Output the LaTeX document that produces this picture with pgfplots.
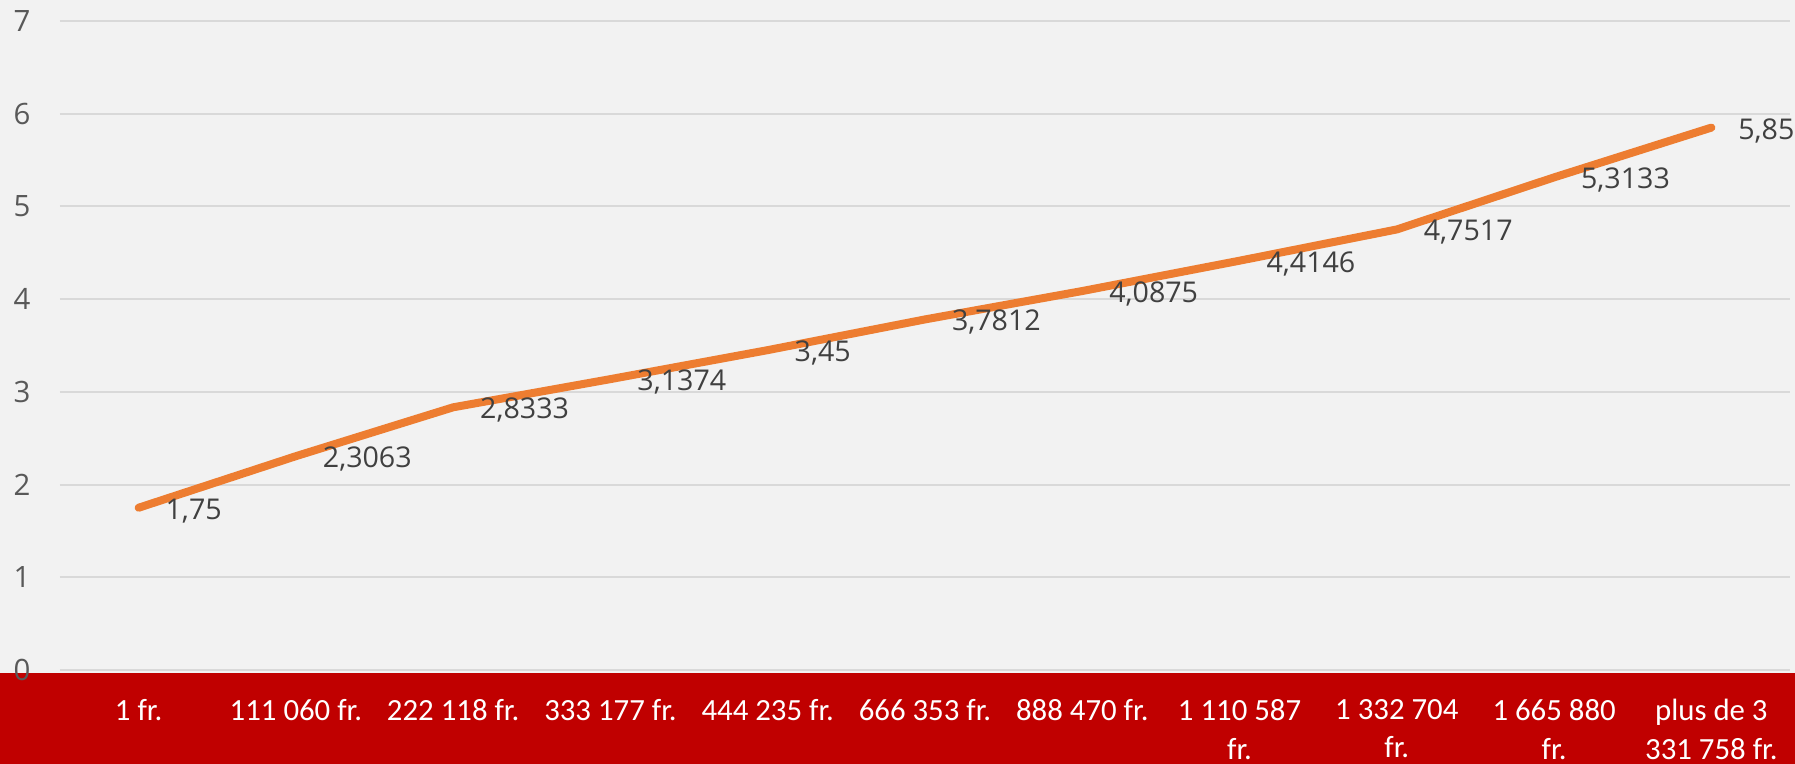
\documentclass[border=0pt]{standalone}
\usepackage{fontspec}
\setmainfont{Open Sans}
\newfontfamily\carlito{Carlito}
\usepackage{pgfplots}
\usepackage{pgfplotstable}
\pgfplotsset{compat=1.18}
\definecolor{bg}{HTML}{F2F2F2}
\definecolor{band}{HTML}{C00000}
\definecolor{gridc}{HTML}{D9D9D9}
\definecolor{lineo}{HTML}{ED7D31}
\definecolor{lab}{HTML}{404040}
\definecolor{tick}{HTML}{595959}
\pgfplotstableread{
x y lab
0 1.75 {1,75}
1 2.3063 {2,3063}
2 2.8333 {2,8333}
3 3.1374 {3,1374}
4 3.45 {3,45}
5 3.7812 {3,7812}
6 4.0875 {4,0875}
7 4.4146 {4,4146}
8 4.7517 {4,7517}
9 5.3133 {5,3133}
10 5.85 {5,85}
}\datatable
\begin{document}
\begin{tikzpicture}
\fill[bg] (0,0) rectangle (897.5pt,382pt);
\fill[band] (0,0) rectangle (897.5pt,45.6pt);
\path[use as bounding box] (0,0) rectangle (897.5pt,382pt);
\begin{axis}[
  at={(30pt,47pt)}, anchor=south west,
  scale only axis, width=865pt, height=324.5pt,
  xmin=-0.5, xmax=10.5, ymin=0, ymax=7,
  clip=false,
  axis line style={draw=none},
  tick style={draw=none},
  ymajorgrids, grid style={draw=gridc, line width=1pt},
  ytick={0,1,...,7},
  xtick={0,1,...,10},
  xticklabels={1 fr., 111 060 fr., 222 118 fr., 333 177 fr., 444 235 fr., 666 353 fr., 888 470 fr., {1 110 587\\fr.}, {1 332 704\\fr.}, {1 665 880\\fr.}, {plus de 3\\331 758 fr.}},
  /pgf/number format/assume math mode=true,
  yticklabel style={anchor=center, xshift=-19pt, text=tick, font=\fontsize{14.7}{17}\selectfont},
  xticklabel style={anchor=north, align=center, text=white, inner sep=0pt, yshift=-14.5pt, font=\carlito\fontsize{15.4}{19.3}\selectfont},
]
\addplot[draw=lineo, line width=4pt, line cap=round, line join=round, mark=none,
  point meta=explicit symbolic,
  nodes near coords={\pgfplotspointmeta},
  every node near coord/.append style={anchor=west, inner sep=0pt, xshift=11.5pt, yshift=-1.5pt, text=lab, font=\fontsize{14.3}{16}\selectfont}
] table[x=x, y=y, meta=lab] {\datatable};
\end{axis}
\end{tikzpicture}
\end{document}
